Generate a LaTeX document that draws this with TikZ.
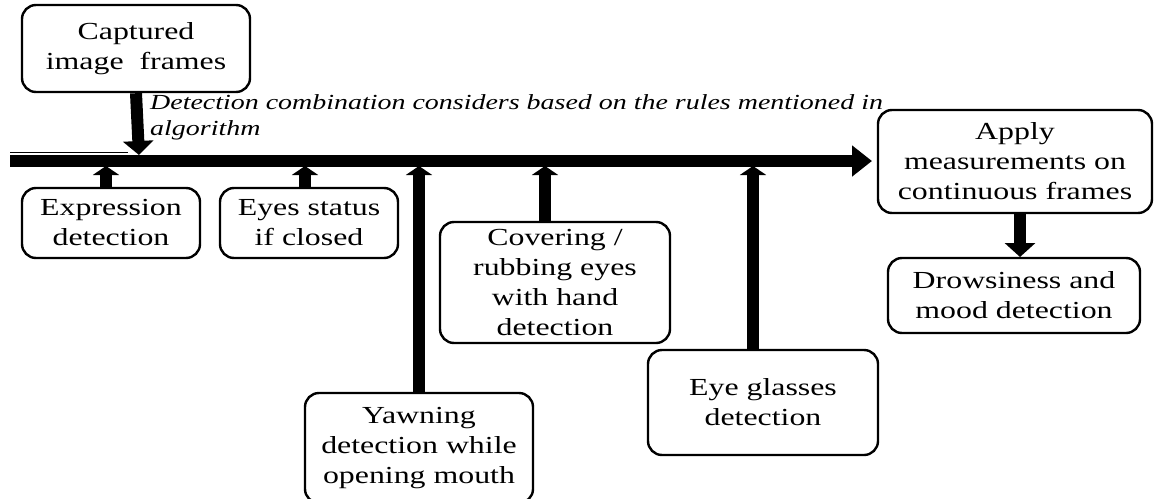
\documentclass[tikz,border=0pt]{standalone}
\usepackage{fontspec}
\setmainfont{Liberation Serif}[FakeStretch=1.3]
\usetikzlibrary{arrows.meta}
\begin{document}
\begin{tikzpicture}[x=1pt,y=-1pt,
  box/.style={draw,line width=2.4pt,rounded corners=14pt,align=center,inner sep=0pt,
    font=\fontsize{24.5}{30}\selectfont},
  thick arrow/.style={line width=12pt,-{Triangle[width=30pt,length=14pt]}},
  up arrow/.style={line width=12pt,-{Triangle[width=26pt,length=9pt]}}]
\useasboundingbox (0,0) rectangle (1156,498);
\node[box,minimum width=228pt,minimum height=87pt] (cap) at (136,48.5) {Captured\\image\ \ frames};
\node[box,minimum width=178pt,minimum height=70pt] (expr) at (111,223) {Expression\\detection};
\node[box,minimum width=178pt,minimum height=70pt] (eyes) at (309,223) {Eyes status\\if closed};
\node[box,minimum width=230pt,minimum height=121pt] (cov) at (555,282.5) {Covering /\\rubbing eyes\\with hand\\detection};
\node[box,minimum width=228pt,minimum height=110pt] (yawn) at (419,448) {Yawning\\detection while\\opening mouth};
\node[box,minimum width=230pt,minimum height=105pt] (glass) at (763,402.5) {Eye glasses\\detection};
\node[box,minimum width=274pt,minimum height=103pt] (apply) at (1015,161.5) {Apply\\measurements on\\continuous frames};
\node[box,minimum width=252pt,minimum height=75pt] (drow) at (1014,295.5) {Drowsiness and\\mood detection};
\coordinate (bl) at (10,161);
\coordinate (br) at (872,161);
\draw[line width=12pt,-{Triangle[width=30pt,length=20pt]}] (bl) -- (br);
\draw[line width=1.5pt] (10,152.5) -- (128,152.5);
\node[anchor=north west,align=left,inner sep=0pt,font=\fontsize{21.5}{26}\selectfont\itshape] (lab) at (150,94)
  {Detection combination considers based on the rules mentioned in\\algorithm};
\draw[thick arrow] (cap.south) -- (139,155);
\draw[up arrow] (expr.north -| 106,0) -- (106,166);
\draw[up arrow] (eyes.north -| 305,0) -- (305,166);
\draw[up arrow] (yawn.north -| 419,0) -- (419,166);
\draw[up arrow] (cov.north -| 545,0) -- (545,166);
\draw[up arrow] (glass.north -| 753,0) -- (753,166);
\draw[thick arrow] (apply.south -| 1020,0) -- (1020,257);
\end{tikzpicture}
\end{document}
